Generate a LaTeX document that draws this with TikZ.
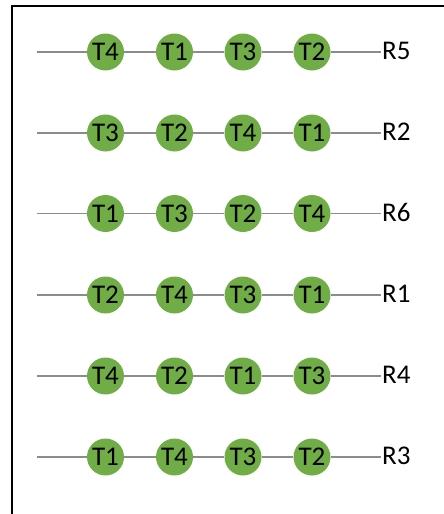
\documentclass[tikz,border=0pt]{standalone}
\usepackage{fontspec}
\setmainfont{Carlito}
\definecolor{taskgreen}{HTML}{70AD47}
\definecolor{wire}{HTML}{8C8C8C}
\begin{document}
\begin{tikzpicture}[x=1pt,y=-1pt,
  task/.style={circle,fill=taskgreen,minimum size=37pt,inner sep=0pt,font=\fontsize{27}{29}\selectfont},
  rlabel/.style={anchor=west,inner sep=0pt,font=\fontsize{27}{29}\selectfont},
  link/.style={draw=wire,line width=1.1pt}]
\useasboundingbox (0,0) rectangle (444,514);
% frame
\draw[line width=2pt] (12,515) -- (12,6) -- (445,6);
% rows: y position, label, task order
\foreach \y/\r/\ta/\tb/\tc/\td [count=\i] in {
   52/R5/T4/T1/T3/T2,
  133/R2/T3/T2/T4/T1,
  213.5/R6/T1/T3/T2/T4,
  295/R1/T2/T4/T3/T1,
  376/R4/T4/T2/T1/T3,
  457/R3/T1/T4/T3/T2}{
  \coordinate (s\i) at (37,\y);
  \coordinate (e\i) at (381,\y);
  \node[task] (a\i) at (105.5,\y) {\ta};
  \node[task] (b\i) at (174.5,\y) {\tb};
  \node[task] (c\i) at (243,\y) {\tc};
  \node[task] (d\i) at (312,\y) {\td};
  \node[rlabel] (r\i) at (382,\y-1) {\r};
  \draw[link] (s\i) -- (a\i) -- (b\i) -- (c\i) -- (d\i) -- (e\i);
}
\end{tikzpicture}
\end{document}
